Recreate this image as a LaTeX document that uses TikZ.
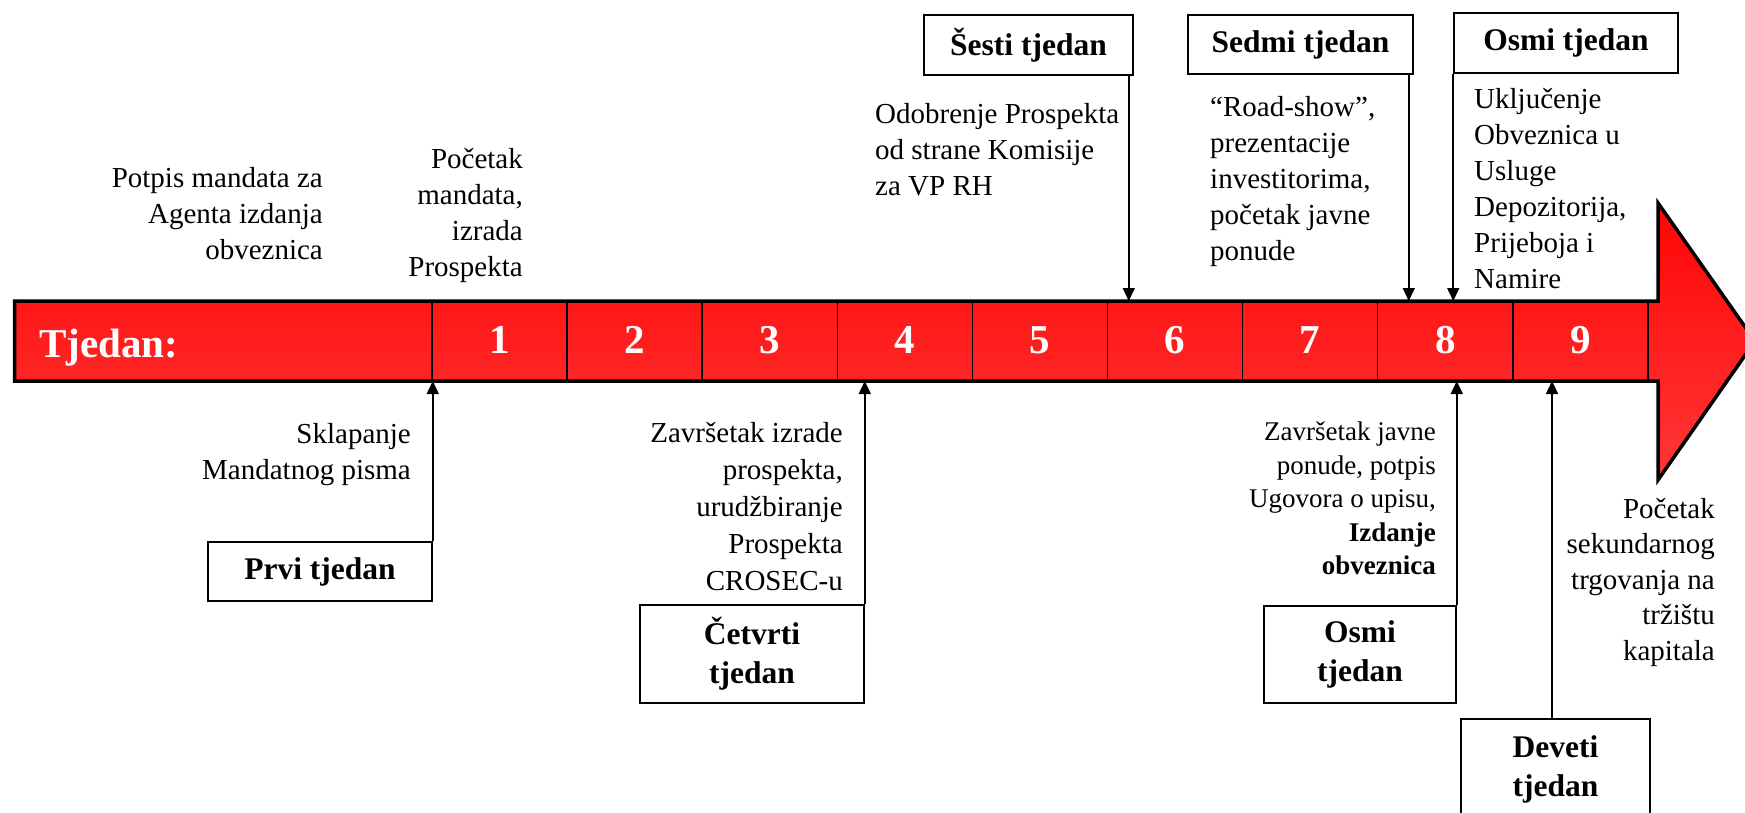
\documentclass[tikz,border=0pt]{standalone}
\usepackage{fontspec}
\setmainfont{Liberation Serif}
\usepackage{xcolor}
\usepackage{tikz}
\usetikzlibrary{arrows.meta, positioning}

\begin{document}
\begin{tikzpicture}[
			x=1pt, y=-1pt,
			every node/.style={font=\fontsize{29}{36}\selectfont, inner sep=0pt},
			weekbox/.style={
				rectangle, draw, line width=1.5pt, fill=white,
				align=center, font=\fontsize{31.5}{39}\selectfont\bfseries
			},
			note/.style={align=right, anchor=north east},
			lnote/.style={align=left, anchor=north west},
			weeknum/.style={text=white, font=\fontsize{41}{41}\selectfont\bfseries, anchor=base},
			arrow/.style={
				-{Triangle[length=13pt,width=12pt]},
				line width=1.6pt
			}
			]
			\useasboundingbox (0,0) rectangle (1745,812);
			\clip (0,0) rectangle (1745,812);
			
			\draw[line width=3.5pt, line join=miter,
				top color={rgb,255:red,255;green,5;blue,5},
				bottom color={rgb,255:red,255;green,55;blue,55}]
				(14.5,301) -- (1658,301) -- (1658,203) -- (1755,341)
				-- (1658,480) -- (1658,381) -- (14.5,381) -- cycle;
			\foreach \i in {0,...,9}
				\draw[line width=1.5pt] (432+135.1*\i,301) -- (432+135.1*\i,381);
			\coordinate (bartop) at (0,301);
			\coordinate (barbot) at (0,381);
			
			\node[text=white, font=\fontsize{41}{41}\selectfont\bfseries, anchor=base west] (tjedan) at (39,357) {Tjedan:};
			\foreach \i in {1,...,9}
				\node[weeknum] (n\i) at (432+135.1*\i-67.55,353) {\i};
			
			\node[note] (potpis) at (323,162) {\strut Potpis mandata za\\Agenta izdanja\\obveznica};
			\node[note] (pocetak) at (523,143) {\strut Početak\\mandata,\\izrada\\Prospekta};
			
			\node[weekbox, minimum width=209pt, minimum height=60pt] (sesti) at (1028.5,45) {Šesti tjedan};
			\node[weekbox, minimum width=225pt, minimum height=59pt] (sedmi) at (1300.5,44.5) {Sedmi tjedan};
			\node[weekbox, minimum width=224pt, minimum height=60pt] (osmi) at (1566,43) {Osmi tjedan};
			\node[lnote] (odobrenje) at (875,98) {\strut Odobrenje Prospekta\\od strane Komisije\\za VP RH};
			\node[lnote] (roadshow) at (1210,91) {\strut “Road-show”,\\prezentacije\\investitorima,\\početak javne\\ponude};
			\node[lnote] (ukljucenje) at (1474,83) {\strut Uključenje\\Obveznica u\\Usluge\\Depozitorija,\\Prijeboja i\\Namire};
			
			\node[weekbox, minimum width=224pt, minimum height=59pt] (prvi) at (320,571.5) {Prvi tjedan};
			\node[weekbox, minimum width=224pt, minimum height=98pt] (cetvrti) at (752,654) {Četvrti\\tjedan};
			\node[weekbox, minimum width=192pt, minimum height=97pt] (osmidolje) at (1360,654.5) {Osmi\\tjedan};
			\node[weekbox, minimum width=189pt, minimum height=100pt] (deveti) at (1555.5,769) {Deveti\\tjedan};
			\node[note] (sklapanje) at (411,418) {\strut Sklapanje\\Mandatnog pisma};
			\node[note, font=\fontsize{29}{37}\selectfont] (zavrsetak) at (843,416) {\strut Završetak izrade\\prospekta,\\urudžbiranje\\Prospekta\\CROSEC-u};
			\node[note, font=\fontsize{27}{33.5}\selectfont] (izdanje) at (1436,417) {\strut Završetak javne\\ponude, potpis\\Ugovora o upisu,\\\textbf{Izdanje}\\\textbf{obveznica}};
			\node[note, font=\fontsize{29}{35.5}\selectfont] (sekundarno) at (1715,493) {\strut Početak\\sekundarnog\\trgovanja na\\tržištu\\kapitala};
			
			\coordinate (s6) at ([xshift=-5pt]sesti.south east);
			\coordinate (s7) at ([xshift=-5pt]sedmi.south east);
			\coordinate (s9) at ([xshift=-3.5pt]deveti.north);
			\draw[arrow] (s6) -- (s6 |- bartop);
			\draw[arrow] (s7) -- (s7 |- bartop);
			\draw[arrow] (osmi.south west) -- (osmi.south west |- bartop);
			\draw[arrow] (prvi.north east) -- (prvi.north east |- barbot);
			\draw[arrow] (cetvrti.north east) -- (cetvrti.north east |- barbot);
			\draw[arrow] (osmidolje.north east) -- (osmidolje.north east |- barbot);
			\draw[arrow] (s9) -- (s9 |- barbot);
			
		\end{tikzpicture}
\end{document}
